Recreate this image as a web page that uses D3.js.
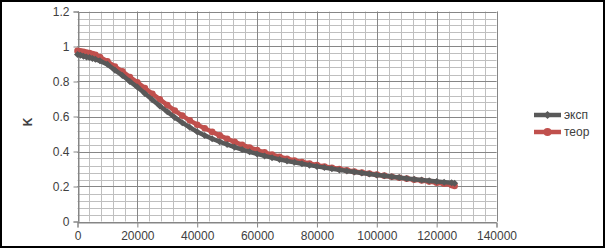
<!DOCTYPE html>
<meta charset="utf-8">
<style>
body { margin: 0; background: #fff; }
text { font-family: "Liberation Sans", "Open Sans", sans-serif; fill: #404040; }
</style>
<svg width="605" height="248"></svg>
<script src="https://d3js.org/d3.v7.min.js"></script>
<script>

// x values (shared by both series)
var xVals = [0, 1000, 2000, 3000, 4000, 5000, 6000, 7500, 10000, 12500, 15000, 17500,
  20000, 22500, 25000, 27500, 30000, 32500, 35000, 37500, 40000, 42500, 45000, 47500,
  50000, 52500, 55000, 57500, 60000, 62500, 65000, 67500, 70000, 72500, 75000, 77500,
  80000, 82500, 85000, 87500, 90000, 92500, 95000, 97500, 100000, 102500, 105000,
  107500, 110000, 112500, 115000, 117500, 120000, 122500, 125000, 126000];

// эксп
var expVals = [0.955, 0.950, 0.945, 0.940, 0.937, 0.932, 0.927, 0.918, 0.898, 0.865, 0.835, 0.800,
  0.768, 0.732, 0.696, 0.660, 0.627, 0.595, 0.565, 0.538, 0.513, 0.492, 0.473, 0.456,
  0.440, 0.425, 0.411, 0.398, 0.386, 0.375, 0.365, 0.355, 0.346, 0.338, 0.330, 0.322,
  0.315, 0.308, 0.301, 0.295, 0.289, 0.283, 0.277, 0.272, 0.266, 0.261, 0.256,
  0.251, 0.246, 0.242, 0.237, 0.233, 0.229, 0.225, 0.221, 0.219];

// теор
var teorVals = [0.975, 0.972, 0.970, 0.965, 0.962, 0.957, 0.952, 0.940, 0.915, 0.885, 0.858, 0.825,
  0.795, 0.762, 0.730, 0.698, 0.665, 0.634, 0.605, 0.578, 0.553, 0.533, 0.512, 0.492,
  0.472, 0.455, 0.438, 0.423, 0.408, 0.395, 0.382, 0.370, 0.359, 0.349, 0.340, 0.331,
  0.322, 0.314, 0.307, 0.300, 0.293, 0.286, 0.280, 0.274, 0.268, 0.262, 0.256,
  0.250, 0.245, 0.239, 0.234, 0.228, 0.222, 0.216, 0.208, 0.203];

var xTicks = [0, 20000, 40000, 60000, 80000, 100000, 120000, 140000];
var yTicks = [0, 0.2, 0.4, 0.6, 0.8, 1, 1.2];
var seriesNames = ["эксп", "теор"];

var svg = d3.select("svg");

// frame
svg.append("rect")
    .attr("x", 1).attr("y", 1)
    .attr("width", 603).attr("height", 246)
    .attr("fill", "#fff")
    .attr("stroke", "#000")
    .attr("stroke-width", 2);

var x = d3.scaleLinear().domain([0, 140000]).range([77.5, 496.5]);
var y = d3.scaleLinear().domain([0, 1.2]).range([221.5, 11.5]);

var g = svg.append("g");

//minor grid
var xMinor = d3.range(0, 140001, 4000);
var yMinor = d3.range(0, 1.2001, 0.04);
g.selectAll("line.xmin").data(xMinor).enter().append("line")
    .attr("x1", d => Math.round(x(d)) + 0.5).attr("x2", d => Math.round(x(d)) + 0.5)
    .attr("y1", y(0)).attr("y2", y(1.2))
    .attr("stroke", "#bfbfbf");
g.selectAll("line.ymin").data(yMinor).enter().append("line")
    .attr("y1", d => Math.round(y(d)) + 0.5).attr("y2", d => Math.round(y(d)) + 0.5)
    .attr("x1", x(0)).attr("x2", x(140000))
    .attr("stroke", "#bfbfbf");

//major grid
g.selectAll("line.xmaj").data(xTicks).enter().append("line")
    .attr("x1", d => Math.round(x(d)) + 0.5).attr("x2", d => Math.round(x(d)) + 0.5)
    .attr("y1", y(0)).attr("y2", y(1.2))
    .attr("stroke", "#868686");
g.selectAll("line.ymaj").data(yTicks).enter().append("line")
    .attr("y1", d => Math.round(y(d)) + 0.5).attr("y2", d => Math.round(y(d)) + 0.5)
    .attr("x1", x(0)).attr("x2", x(140000))
    .attr("stroke", "#868686");

// axes
var xAxis = d3.axisBottom(x).tickValues(xTicks).tickSize(5).tickPadding(4).tickFormat(d3.format("d"));
var yAxis = d3.axisLeft(y).tickValues(yTicks).tickSize(5).tickPadding(4).tickFormat(d => String(d));

var gx = svg.append("g").attr("transform", "translate(0," + (Math.round(y(0)) + 0.5) + ")").call(xAxis);
var gy = svg.append("g").attr("transform", "translate(" + (Math.round(x(0)) + 0.5) + ",0)").call(yAxis);
[gx, gy].forEach(function(a) {
  a.select(".domain").attr("stroke", "#868686");
  a.selectAll(".tick line").attr("stroke", "#868686");
  a.selectAll(".tick text").style("font-size", "12px").attr("fill", "#404040");
});

svg.append("text")
    .attr("transform", "translate(32,122) rotate(-90)")
    .attr("text-anchor", "middle")
    .style("font-size", "12px")
    .style("font-weight", "bold")
    .text("K");

var expColor = "#595959", teorColor = "#c0504d";

var line = d3.line().x(d => x(d[0])).y(d => y(d[1]));
var expData = xVals.map((v, i) => [v, expVals[i]]);
var teorData = xVals.map((v, i) => [v, teorVals[i]]);

function diamond(sel, cx, cy, r, color) {
  sel.append("path")
      .attr("d", "M" + cx + "," + (cy - r) + "L" + (cx + r) + "," + cy + "L" + cx + "," + (cy + r) + "L" + (cx - r) + "," + cy + "Z")
      .attr("fill", color);
}

// теор series (drawn first, under)
svg.append("path").datum(teorData)
    .attr("d", line).attr("fill", "none")
    .attr("stroke", teorColor).attr("stroke-width", 4.5);
svg.append("g").selectAll("circle").data(teorData).enter().append("circle")
    .attr("cx", d => x(d[0])).attr("cy", d => y(d[1]))
    .attr("r", 3.3).attr("fill", teorColor);

// эксп series
svg.append("path").datum(expData)
    .attr("d", line).attr("fill", "none")
    .attr("stroke", expColor).attr("stroke-width", 4.5);
var ge = svg.append("g");
expData.forEach(function(d) { diamond(ge, x(d[0]), y(d[1]), 3.5, expColor); });

// legend
var leg = svg.append("g");
var legY = [115, 132];
var legC = [expColor, teorColor];
seriesNames.forEach(function(name, i) {
  leg.append("line")
      .attr("x1", 534).attr("x2", 561).attr("y1", legY[i]).attr("y2", legY[i])
      .attr("stroke", legC[i]).attr("stroke-width", 4.5);
  if (i == 0) diamond(leg, 547.5, legY[i], 4, legC[i]);
  else leg.append("circle").attr("cx", 547.5).attr("cy", legY[i]).attr("r", 4).attr("fill", legC[i]);
  leg.append("text")
      .attr("x", 564).attr("y", legY[i]).attr("dy", "0.35em")
      .style("font-size", "12px")
      .text(name);
});

</script>
